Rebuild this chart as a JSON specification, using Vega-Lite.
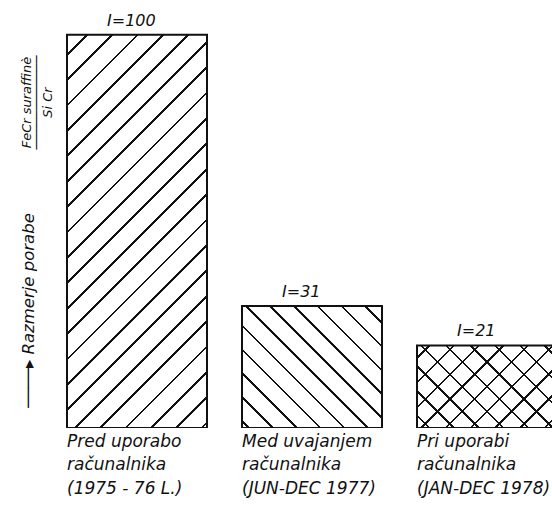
{
  "$schema": "https://vega.github.io/schema/vega-lite/v6.json",
  "width": 495,
  "height": 413,
  "autosize": {"type": "none"},
  "padding": {"left": 57, "top": 15, "right": 0, "bottom": 80},
  "background": "white",
  "config": {"view": {"stroke": null}},
  "data": {"values": [
    {"period": "1975-76", "label": "Pred uporabo|računalnika|(1975 - 76 L.)", "value": 100, "note": "I=100"},
    {"period": "1977", "label": "Med uvajanjem|računalnika|(JUN-DEC 1977)", "value": 31, "note": "I=31"},
    {"period": "1978", "label": "Pri  uporabi|računalnika|(JAN-DEC 1978)", "value": 21, "note": "I=21"}
  ]},
  "encoding": {
    "x": {
      "field": "label", "type": "nominal", "sort": null,
      "scale": {"type": "band", "range": [10, 500], "paddingInner": 0.2, "paddingOuter": 0},
      "axis": {
        "domain": false, "ticks": false, "tickSize": 0, "grid": false,
        "labelExpr": "split(datum.label, '|')",
        "labelAngle": 0, "labelAlign": "left", "labelOffset": -70, "labelPadding": 18,
        "labelBaseline": "alphabetic", "labelLineHeight": 23.5,
        "labelFont": "DejaVu Sans", "labelFontStyle": "italic", "labelFontSize": 17,
        "labelColor": "#111", "labelLimit": 300, "labelOverlap": false, "labelBound": false,
        "title": ["FeCr suraffinè", "────────────", "Si Cr\u00a0\u00a0\u00a0\u00a0"],
        "titleAngle": -90, "titleX": -27, "titleY": -326,
        "titleAlign": "center", "titleBaseline": "alphabetic", "titleLineHeight": 10.5,
        "titleFont": "DejaVu Sans", "titleFontStyle": "italic", "titleFontWeight": "normal",
        "titleFontSize": 13, "titleColor": "#111"
      }
    },
    "y": {
      "field": "value", "type": "quantitative",
      "scale": {"domain": [0, 105], "nice": false},
      "axis": {
        "domain": false, "ticks": false, "labels": false, "grid": false,
        "title": "────▸ Razmerje  porabe",
        "titleAngle": -90, "titleX": -24, "titleY": 295,
        "titleAlign": "center", "titleBaseline": "alphabetic",
        "titleFont": "DejaVu Sans", "titleFontStyle": "italic", "titleFontWeight": "normal",
        "titleFontSize": 16.5, "titleColor": "#111"
      }
    }
  },
  "layer": [
    {
      "transform": [{"filter": "datum.period == '1975-76'"}],
      "mark": {"type": "bar", "clip": true, "stroke": null, "fill": {
        "gradient": "linear", "x1": 0, "y1": 0, "x2": 0.42839, "y2": 1.20346,
        "stops": [
          {"offset": 0, "color": "white"},
          {"offset": 0.0351, "color": "white"}, {"offset": 0.0351, "color": "#111"}, {"offset": 0.0401, "color": "#111"}, {"offset": 0.0401, "color": "white"},
          {"offset": 0.0827, "color": "white"}, {"offset": 0.0827, "color": "#111"}, {"offset": 0.0877, "color": "#111"}, {"offset": 0.0877, "color": "white"},
          {"offset": 0.1304, "color": "white"}, {"offset": 0.1304, "color": "#111"}, {"offset": 0.1354, "color": "#111"}, {"offset": 0.1354, "color": "white"},
          {"offset": 0.1780, "color": "white"}, {"offset": 0.1780, "color": "#111"}, {"offset": 0.1830, "color": "#111"}, {"offset": 0.1830, "color": "white"},
          {"offset": 0.2256, "color": "white"}, {"offset": 0.2256, "color": "#111"}, {"offset": 0.2306, "color": "#111"}, {"offset": 0.2306, "color": "white"},
          {"offset": 0.2732, "color": "white"}, {"offset": 0.2732, "color": "#111"}, {"offset": 0.2782, "color": "#111"}, {"offset": 0.2782, "color": "white"},
          {"offset": 0.3208, "color": "white"}, {"offset": 0.3208, "color": "#111"}, {"offset": 0.3258, "color": "#111"}, {"offset": 0.3258, "color": "white"},
          {"offset": 0.3685, "color": "white"}, {"offset": 0.3685, "color": "#111"}, {"offset": 0.3735, "color": "#111"}, {"offset": 0.3735, "color": "white"},
          {"offset": 0.4161, "color": "white"}, {"offset": 0.4161, "color": "#111"}, {"offset": 0.4211, "color": "#111"}, {"offset": 0.4211, "color": "white"},
          {"offset": 0.4637, "color": "white"}, {"offset": 0.4637, "color": "#111"}, {"offset": 0.4687, "color": "#111"}, {"offset": 0.4687, "color": "white"},
          {"offset": 0.5113, "color": "white"}, {"offset": 0.5113, "color": "#111"}, {"offset": 0.5163, "color": "#111"}, {"offset": 0.5163, "color": "white"},
          {"offset": 0.5589, "color": "white"}, {"offset": 0.5589, "color": "#111"}, {"offset": 0.5639, "color": "#111"}, {"offset": 0.5639, "color": "white"},
          {"offset": 0.6065, "color": "white"}, {"offset": 0.6065, "color": "#111"}, {"offset": 0.6115, "color": "#111"}, {"offset": 0.6115, "color": "white"},
          {"offset": 0.6542, "color": "white"}, {"offset": 0.6542, "color": "#111"}, {"offset": 0.6592, "color": "#111"}, {"offset": 0.6592, "color": "white"},
          {"offset": 0.7018, "color": "white"}, {"offset": 0.7018, "color": "#111"}, {"offset": 0.7068, "color": "#111"}, {"offset": 0.7068, "color": "white"},
          {"offset": 0.7494, "color": "white"}, {"offset": 0.7494, "color": "#111"}, {"offset": 0.7544, "color": "#111"}, {"offset": 0.7544, "color": "white"},
          {"offset": 0.7970, "color": "white"}, {"offset": 0.7970, "color": "#111"}, {"offset": 0.8020, "color": "#111"}, {"offset": 0.8020, "color": "white"},
          {"offset": 0.8446, "color": "white"}, {"offset": 0.8446, "color": "#111"}, {"offset": 0.8496, "color": "#111"}, {"offset": 0.8496, "color": "white"},
          {"offset": 0.8923, "color": "white"}, {"offset": 0.8923, "color": "#111"}, {"offset": 0.8973, "color": "#111"}, {"offset": 0.8973, "color": "white"},
          {"offset": 0.9399, "color": "white"}, {"offset": 0.9399, "color": "#111"}, {"offset": 0.9449, "color": "#111"}, {"offset": 0.9449, "color": "white"},
          {"offset": 0.9875, "color": "white"}, {"offset": 0.9875, "color": "#111"}, {"offset": 0.9925, "color": "#111"}, {"offset": 0.9925, "color": "white"},
          {"offset": 1, "color": "white"}
        ]
      }}
    },
    {
      "transform": [{"filter": "datum.period == '1977'"}],
      "mark": {"type": "bar", "clip": true, "stroke": null, "fill": {
        "gradient": "linear", "x1": 0, "y1": 1, "x2": 1.06401, "y2": 0.07355,
        "stops": [
          {"offset": 0, "color": "white"},
          {"offset": 0.0223, "color": "white"}, {"offset": 0.0223, "color": "#111"}, {"offset": 0.0323, "color": "#111"}, {"offset": 0.0323, "color": "white"},
          {"offset": 0.1132, "color": "white"}, {"offset": 0.1132, "color": "#111"}, {"offset": 0.1232, "color": "#111"}, {"offset": 0.1232, "color": "white"},
          {"offset": 0.2041, "color": "white"}, {"offset": 0.2041, "color": "#111"}, {"offset": 0.2141, "color": "#111"}, {"offset": 0.2141, "color": "white"},
          {"offset": 0.2950, "color": "white"}, {"offset": 0.2950, "color": "#111"}, {"offset": 0.3050, "color": "#111"}, {"offset": 0.3050, "color": "white"},
          {"offset": 0.3859, "color": "white"}, {"offset": 0.3859, "color": "#111"}, {"offset": 0.3959, "color": "#111"}, {"offset": 0.3959, "color": "white"},
          {"offset": 0.4768, "color": "white"}, {"offset": 0.4768, "color": "#111"}, {"offset": 0.4868, "color": "#111"}, {"offset": 0.4868, "color": "white"},
          {"offset": 0.5677, "color": "white"}, {"offset": 0.5677, "color": "#111"}, {"offset": 0.5777, "color": "#111"}, {"offset": 0.5777, "color": "white"},
          {"offset": 0.6586, "color": "white"}, {"offset": 0.6586, "color": "#111"}, {"offset": 0.6686, "color": "#111"}, {"offset": 0.6686, "color": "white"},
          {"offset": 0.7495, "color": "white"}, {"offset": 0.7495, "color": "#111"}, {"offset": 0.7595, "color": "#111"}, {"offset": 0.7595, "color": "white"},
          {"offset": 0.8405, "color": "white"}, {"offset": 0.8405, "color": "#111"}, {"offset": 0.8505, "color": "#111"}, {"offset": 0.8505, "color": "white"},
          {"offset": 0.9314, "color": "white"}, {"offset": 0.9314, "color": "#111"}, {"offset": 0.9414, "color": "#111"}, {"offset": 0.9414, "color": "white"},
          {"offset": 1, "color": "white"}
        ]
      }}
    },
    {
      "transform": [{"filter": "datum.period == '1978'"}],
      "mark": {"type": "bar", "clip": true, "stroke": null, "fill": {
        "gradient": "linear", "x1": 0, "y1": 0, "x2": 1.17943, "y2": 0.69586,
        "stops": [
          {"offset": 0, "color": "white"},
          {"offset": 0.0501, "color": "white"}, {"offset": 0.0501, "color": "#111"}, {"offset": 0.0611, "color": "#111"}, {"offset": 0.0611, "color": "white"},
          {"offset": 0.1612, "color": "white"}, {"offset": 0.1612, "color": "#111"}, {"offset": 0.1722, "color": "#111"}, {"offset": 0.1722, "color": "white"},
          {"offset": 0.2723, "color": "white"}, {"offset": 0.2723, "color": "#111"}, {"offset": 0.2833, "color": "#111"}, {"offset": 0.2833, "color": "white"},
          {"offset": 0.3834, "color": "white"}, {"offset": 0.3834, "color": "#111"}, {"offset": 0.3944, "color": "#111"}, {"offset": 0.3944, "color": "white"},
          {"offset": 0.4945, "color": "white"}, {"offset": 0.4945, "color": "#111"}, {"offset": 0.5055, "color": "#111"}, {"offset": 0.5055, "color": "white"},
          {"offset": 0.6056, "color": "white"}, {"offset": 0.6056, "color": "#111"}, {"offset": 0.6166, "color": "#111"}, {"offset": 0.6166, "color": "white"},
          {"offset": 0.7167, "color": "white"}, {"offset": 0.7167, "color": "#111"}, {"offset": 0.7277, "color": "#111"}, {"offset": 0.7277, "color": "white"},
          {"offset": 0.8278, "color": "white"}, {"offset": 0.8278, "color": "#111"}, {"offset": 0.8388, "color": "#111"}, {"offset": 0.8388, "color": "white"},
          {"offset": 0.9389, "color": "white"}, {"offset": 0.9389, "color": "#111"}, {"offset": 0.9499, "color": "#111"}, {"offset": 0.9499, "color": "white"},
          {"offset": 1, "color": "white"}
        ]
      }}
    },
    {
      "transform": [{"filter": "datum.period == '1978'"}],
      "mark": {"type": "bar", "clip": true, "stroke": null, "fill": {
        "gradient": "linear", "x1": 0, "y1": 1, "x2": 1.17943, "y2": 0.30414,
        "stops": [
          {"offset": 0, "color": "rgba(0,0,0,0)"},
          {"offset": 0.0501, "color": "rgba(0,0,0,0)"}, {"offset": 0.0501, "color": "#111"}, {"offset": 0.0611, "color": "#111"}, {"offset": 0.0611, "color": "rgba(0,0,0,0)"},
          {"offset": 0.1612, "color": "rgba(0,0,0,0)"}, {"offset": 0.1612, "color": "#111"}, {"offset": 0.1722, "color": "#111"}, {"offset": 0.1722, "color": "rgba(0,0,0,0)"},
          {"offset": 0.2723, "color": "rgba(0,0,0,0)"}, {"offset": 0.2723, "color": "#111"}, {"offset": 0.2833, "color": "#111"}, {"offset": 0.2833, "color": "rgba(0,0,0,0)"},
          {"offset": 0.3834, "color": "rgba(0,0,0,0)"}, {"offset": 0.3834, "color": "#111"}, {"offset": 0.3944, "color": "#111"}, {"offset": 0.3944, "color": "rgba(0,0,0,0)"},
          {"offset": 0.4945, "color": "rgba(0,0,0,0)"}, {"offset": 0.4945, "color": "#111"}, {"offset": 0.5055, "color": "#111"}, {"offset": 0.5055, "color": "rgba(0,0,0,0)"},
          {"offset": 0.6056, "color": "rgba(0,0,0,0)"}, {"offset": 0.6056, "color": "#111"}, {"offset": 0.6166, "color": "#111"}, {"offset": 0.6166, "color": "rgba(0,0,0,0)"},
          {"offset": 0.7167, "color": "rgba(0,0,0,0)"}, {"offset": 0.7167, "color": "#111"}, {"offset": 0.7277, "color": "#111"}, {"offset": 0.7277, "color": "rgba(0,0,0,0)"},
          {"offset": 0.8278, "color": "rgba(0,0,0,0)"}, {"offset": 0.8278, "color": "#111"}, {"offset": 0.8388, "color": "#111"}, {"offset": 0.8388, "color": "rgba(0,0,0,0)"},
          {"offset": 0.9389, "color": "rgba(0,0,0,0)"}, {"offset": 0.9389, "color": "#111"}, {"offset": 0.9499, "color": "#111"}, {"offset": 0.9499, "color": "rgba(0,0,0,0)"},
          {"offset": 1, "color": "rgba(0,0,0,0)"}
        ]
      }}
    },
    {
      "mark": {"type": "bar", "clip": true, "filled": false, "color": "#111", "strokeWidth": 2}
    },
    {
      "mark": {"type": "text", "align": "left", "baseline": "alphabetic", "dx": -30, "dy": -9,
               "font": "DejaVu Sans", "fontStyle": "italic", "fontSize": 16, "color": "#111"},
      "encoding": {"text": {"field": "note", "type": "nominal"}}
    }
  ]
}
